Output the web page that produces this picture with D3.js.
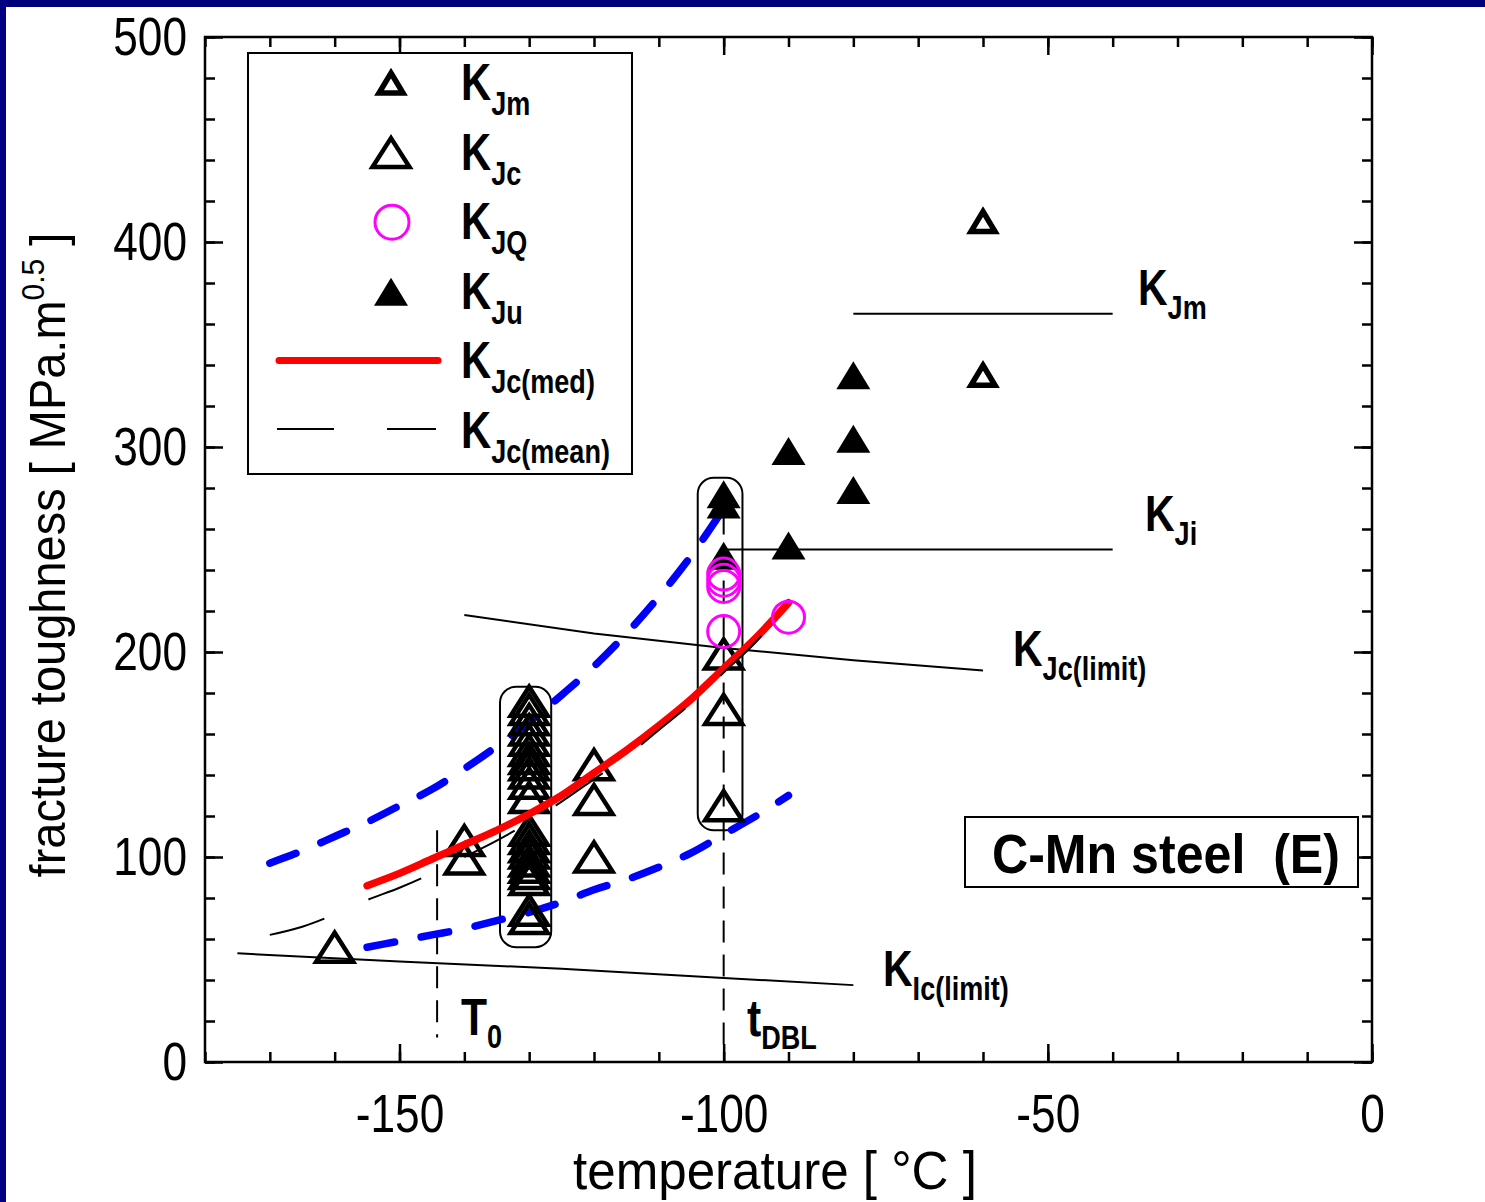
<!DOCTYPE html>
<html>
<head>
<meta charset="utf-8">
<script src="https://cdn.jsdelivr.net/npm/d3@7"></script>
<style>
  body { margin: 0; background: #fff; }
  svg { display: block; }
</style>
</head>
<body>
<script>
const W = 1485, H = 1202

// tick values
const tempTicks = [-150, -100, -50, 0]
const kTicks = [0, 100, 200, 300, 400, 500]

// data points [temperature, K]
const kJm = [[-60, 410], [-60, 335]]
const kJc = [
    [-160, 56], [-140, 108], [-140, 99],
    [-130, 176], [-130, 172], [-130, 167], [-130, 162], [-130, 157], [-130, 152], [-130, 148],
    [-130, 145], [-130, 141], [-130, 136], [-130, 129], [-130, 113], [-130, 109], [-130, 105],
    [-130, 102], [-130, 98], [-130, 95], [-130, 92], [-130, 89], [-130, 74], [-130, 70],
    [-120, 145], [-120, 128], [-120, 100],
    [-100, 199], [-100, 172], [-100, 125]
]
const kJQ = [[-100, 238], [-100, 235], [-100, 232], [-100, 210], [-90, 217]]
const kJu = [[-100, 277], [-100, 272], [-100, 247], [-90, 298], [-90, 252], [-80, 335], [-80, 304], [-80, 279]]

// curves
const medT = [-155, -150, -145, -140, -135, -130, -125, -120, -115, -110, -105, -100, -95, -90]
const medK = [86, 92, 99, 106, 113, 121, 130, 141, 152, 164, 177, 192, 207, 224]
const meanT = [-170, -165, -160, -155, -150, -145, -140, -135, -130, -125, -120, -115, -110, -105, -100, -95, -92]
const meanK = [62, 66, 72, 79, 85, 92, 100, 108, 117, 127, 138, 149, 162, 175, 190, 205, 216]
const upperT = [-170, -165, -160, -155, -150, -145, -140, -135, -130, -125, -120, -115, -110, -105, -100]
const upperK = [97, 103, 110, 117, 125, 133, 143, 154, 166, 179, 193, 209, 227, 247, 270]
const lowerT = [-155, -150, -145, -140, -135, -130, -125, -120, -115, -110, -105, -100, -95, -90]
const lowerK = [56, 59, 62, 65, 69, 73, 78, 84, 89, 95, 102, 111, 120, 130]

const kJcLimit = [[-140, 218], [-120, 209], [-100, 202], [-80, 196], [-60, 191]]
const kIcLimit = [[-175, 53], [-150, 49], [-125, 45.5], [-100, 41], [-80, 37.5]]
const kJmLevel = [[-80, 365], [-40, 365]]
const kJiLevel = [[-100, 250], [-40, 250]]
const t0Line = [[-144.2, 113], [-144.2, 12]]
const tDBLLine = [[-100, 268], [-100, 8]]

// rounded boxes round the data groups [t0, t1, k0, k1]
const groupBoxes = [[-134.5, -126.6, 56, 183], [-104, -97.1, 113, 285]]

const FONT = "'Liberation Sans', Arial, Helvetica, sans-serif"
const NARROW = 0.82   // no narrow face installed, so squeeze Liberation Sans

const svg = d3.select('body').append('svg')
    .attr('width', W)
    .attr('height', H)

svg.append('rect').attr('width', W).attr('height', H).attr('fill', '#fff')
// navy frame of the slide
svg.append('rect').attr('width', W).attr('height', 7).attr('fill', '#00007a')
svg.append('rect').attr('width', 6).attr('height', H).attr('fill', '#000080')

const x = d3.scaleLinear().domain([-180, 0]).range([205, 1372])
const y = d3.scaleLinear().domain([0, 500]).range([1062, 37])

// axes, ticks pointing inwards on all four sides
function styleAxis(g) {
    g.select('.domain').remove()
    g.selectAll('line').attr('stroke', '#000').attr('stroke-width', 2.5)
    g.selectAll('text')
        .attr('font-family', FONT)
        .attr('font-size', 54)
        .attr('fill', '#000')
        .attr('x', function () { return (+this.getAttribute('x') || 0) / NARROW })
        .attr('transform', `scale(${NARROW},1)`)
}

const minorT = d3.range(-180, 1, 10)
const minorK = d3.range(0, 501, 20)

svg.append('g').attr('transform', `translate(0,${y(0)})`)
    .call(d3.axisBottom(x).tickValues(minorT).tickSizeInner(-10).tickSizeOuter(0).tickFormat(''))
    .call(styleAxis)
svg.append('g').attr('transform', `translate(0,${y(0)})`)
    .call(d3.axisBottom(x).tickValues(tempTicks).tickSizeInner(-18).tickSizeOuter(0).tickPadding(32).tickFormat(d => String(d)))
    .call(styleAxis)
svg.append('g').attr('transform', `translate(0,${y(500)})`)
    .call(d3.axisTop(x).tickValues(minorT).tickSizeInner(-10).tickSizeOuter(0).tickFormat(''))
    .call(styleAxis)
svg.append('g').attr('transform', `translate(0,${y(500)})`)
    .call(d3.axisTop(x).tickValues(tempTicks).tickSizeInner(-18).tickSizeOuter(0).tickFormat(''))
    .call(styleAxis)
svg.append('g').attr('transform', `translate(${x(-180)},0)`)
    .call(d3.axisLeft(y).tickValues(minorK).tickSizeInner(-10).tickSizeOuter(0).tickFormat(''))
    .call(styleAxis)
svg.append('g').attr('transform', `translate(${x(-180)},0)`)
    .call(d3.axisLeft(y).tickValues(kTicks).tickSizeInner(-18).tickSizeOuter(0).tickPadding(18).tickFormat(d => String(d)))
    .call(styleAxis)
svg.append('g').attr('transform', `translate(${x(0)},0)`)
    .call(d3.axisRight(y).tickValues(minorK).tickSizeInner(-10).tickSizeOuter(0).tickFormat(''))
    .call(styleAxis)
svg.append('g').attr('transform', `translate(${x(0)},0)`)
    .call(d3.axisRight(y).tickValues(kTicks).tickSizeInner(-18).tickSizeOuter(0).tickFormat(''))
    .call(styleAxis)

// plot frame
svg.append('rect')
    .attr('x', x(-180)).attr('y', y(500))
    .attr('width', x(0) - x(-180)).attr('height', y(0) - y(500))
    .attr('fill', 'none').attr('stroke', '#000').attr('stroke-width', 2.5)

// squeeze/stretch a text so that it spans the wanted width
function fitWidth(text, width) {
    const w = text.node().getBBox().width
    text.attr('transform', `scale(${width / w},1)`)
}

// axis titles
const xTitle = svg.append('g').attr('transform', 'translate(775,1189)')
    .append('text')
    .attr('text-anchor', 'middle')
    .attr('font-family', FONT).attr('font-size', 54)
    .text('temperature [ °C ]')
fitWidth(xTitle, 404)

const yTitle = svg.append('g').attr('transform', 'translate(65,555) rotate(-90)')
    .append('text')
    .attr('text-anchor', 'middle')
    .attr('font-family', FONT).attr('font-size', 50)
yTitle.append('tspan').text('fracture toughness [ MPa.m')
yTitle.append('tspan').attr('font-size', 32).attr('dy', -21).text('0.5')
yTitle.append('tspan').attr('dy', 21).text(' ]')
fitWidth(yTitle, 645)

const line = d3.line().x(d => x(d[0])).y(d => y(d[1]))
const smooth = d3.line().x(d => x(d[0])).y(d => y(d[1])).curve(d3.curveMonotoneX)

// limit lines and levels
;[kJcLimit, kIcLimit, kJmLevel, kJiLevel].forEach(pts => {
    svg.append('path').datum(pts)
        .attr('d', line)
        .attr('fill', 'none').attr('stroke', '#000').attr('stroke-width', 2)
})
;[t0Line, tDBLLine].forEach(pts => {
    svg.append('path').datum(pts)
        .attr('d', line)
        .attr('fill', 'none').attr('stroke', '#000').attr('stroke-width', 2)
        .attr('stroke-dasharray', '22,12')
})

// group boxes
groupBoxes.forEach(b => {
    svg.append('rect')
        .attr('x', x(b[0])).attr('y', y(b[3]))
        .attr('width', x(b[1]) - x(b[0])).attr('height', y(b[2]) - y(b[3]))
        .attr('rx', 16).attr('ry', 16)
        .attr('fill', 'none').attr('stroke', '#000').attr('stroke-width', 2)
})

// scatter bands (blue dashed)
;[d3.zip(upperT, upperK), d3.zip(lowerT, lowerK)].forEach(pts => {
    svg.append('path').datum(pts)
        .attr('d', smooth)
        .attr('fill', 'none').attr('stroke', '#0000ff').attr('stroke-width', 7.5)
        .attr('stroke-linecap', 'round')
        .attr('stroke-dasharray', '28,27')
})

// markers
function triPath(w, h) {
    return `M0,${-h / 2}L${w / 2},${h / 2}L${-w / 2},${h / 2}Z`
}
const marks = svg.append('g')
marks.selectAll(null).data(kJc).enter().append('path')
    .attr('transform', d => `translate(${x(d[0])},${y(d[1])})`)
    .attr('d', triPath(37, 29))
    .attr('fill', 'none').attr('stroke', '#000').attr('stroke-width', 4.5)
marks.selectAll(null).data(kJu).enter().append('path')
    .attr('transform', d => `translate(${x(d[0])},${y(d[1])})`)
    .attr('d', triPath(34, 28))
    .attr('fill', '#000')
marks.selectAll(null).data(kJm).enter().append('path')
    .attr('transform', d => `translate(${x(d[0])},${y(d[1])})`)
    .attr('d', triPath(24, 20))
    .attr('fill', 'none').attr('stroke', '#000').attr('stroke-width', 5.5)

// median and mean master curves
svg.append('path').datum(d3.zip(medT, medK))
    .attr('d', smooth)
    .attr('fill', 'none').attr('stroke', '#ff0000').attr('stroke-width', 7.5)
    .attr('stroke-linecap', 'round')
svg.append('path').datum(d3.zip(meanT, meanK))
    .attr('d', smooth)
    .attr('fill', 'none').attr('stroke', '#000').attr('stroke-width', 2)
    .attr('stroke-dasharray', '57,48')

svg.append('g').selectAll('circle').data(kJQ).enter().append('circle')
    .attr('cx', d => x(d[0])).attr('cy', d => y(d[1]))
    .attr('r', 16)
    .attr('fill', 'none').attr('stroke', '#ff00ff').attr('stroke-width', 3)

// K labels with subscripts, in a narrow bold face
function kLabel(parent, px, py, main, sub, size, subSize, subDy) {
    const t = parent.append('g').attr('transform', `translate(${px},${py}) scale(${NARROW},1)`)
        .append('text')
        .attr('font-family', FONT).attr('font-weight', 'bold')
        .attr('font-size', size)
    t.append('tspan').text(main)
    t.append('tspan').attr('font-size', subSize).attr('dy', subDy).text(sub)
    return t
}

kLabel(svg, 1138, 305, 'K', 'Jm', 50, 33, 14)
kLabel(svg, 1145, 531, 'K', 'Ji', 50, 33, 14)
kLabel(svg, 1013, 666, 'K', 'Jc(limit)', 50, 33, 14)
kLabel(svg, 883, 986, 'K', 'Ic(limit)', 50, 33, 14)
kLabel(svg, 461, 1035, 'T', '0', 52, 33, 13)
kLabel(svg, 747, 1036, 't', 'DBL', 52, 33, 13)

// material box
svg.append('rect')
    .attr('x', 965).attr('y', 817).attr('width', 393).attr('height', 70)
    .attr('fill', '#fff').attr('stroke', '#000').attr('stroke-width', 2)
const material = svg.append('g').attr('transform', 'translate(992,873)')
    .append('text')
    .attr('font-family', FONT).attr('font-weight', 'bold').attr('font-size', 56)
    .style('white-space', 'pre')
    .text('C-Mn steel  (E)')
fitWidth(material, 348)

// legend
const legendSubs = ['Jm', 'Jc', 'JQ', 'Ju', 'Jc(med)', 'Jc(mean)']
const legend = svg.append('g')
legend.append('rect')
    .attr('x', 248).attr('y', 53).attr('width', 384).attr('height', 421)
    .attr('fill', '#fff').attr('stroke', '#000').attr('stroke-width', 2)

const rowY = i => 83 + i * 69.6
legend.append('path')
    .attr('transform', `translate(391,${rowY(0)})`)
    .attr('d', triPath(24, 20))
    .attr('fill', 'none').attr('stroke', '#000').attr('stroke-width', 5.5)
legend.append('path')
    .attr('transform', `translate(391,${rowY(1)})`)
    .attr('d', triPath(37, 29))
    .attr('fill', 'none').attr('stroke', '#000').attr('stroke-width', 4.5)
legend.append('circle').attr('cx', 392).attr('cy', rowY(2)).attr('r', 17)
    .attr('fill', 'none').attr('stroke', '#ff00ff').attr('stroke-width', 3)
legend.append('path')
    .attr('transform', `translate(391,${rowY(3)})`)
    .attr('d', triPath(34, 28))
    .attr('fill', '#000')
legend.append('line')
    .attr('x1', 279).attr('x2', 438).attr('y1', rowY(4) - 1).attr('y2', rowY(4) - 1)
    .attr('stroke', '#ff0000').attr('stroke-width', 7).attr('stroke-linecap', 'round')
legend.append('line')
    .attr('x1', 277).attr('x2', 436).attr('y1', rowY(5) - 2).attr('y2', rowY(5) - 2)
    .attr('stroke', '#000').attr('stroke-width', 2).attr('stroke-dasharray', '57,53')

legendSubs.forEach((s, i) => {
    kLabel(legend, 461, rowY(i) + 17, 'K', s, 51, 33, 15)
})
</script>
</body>
</html>
